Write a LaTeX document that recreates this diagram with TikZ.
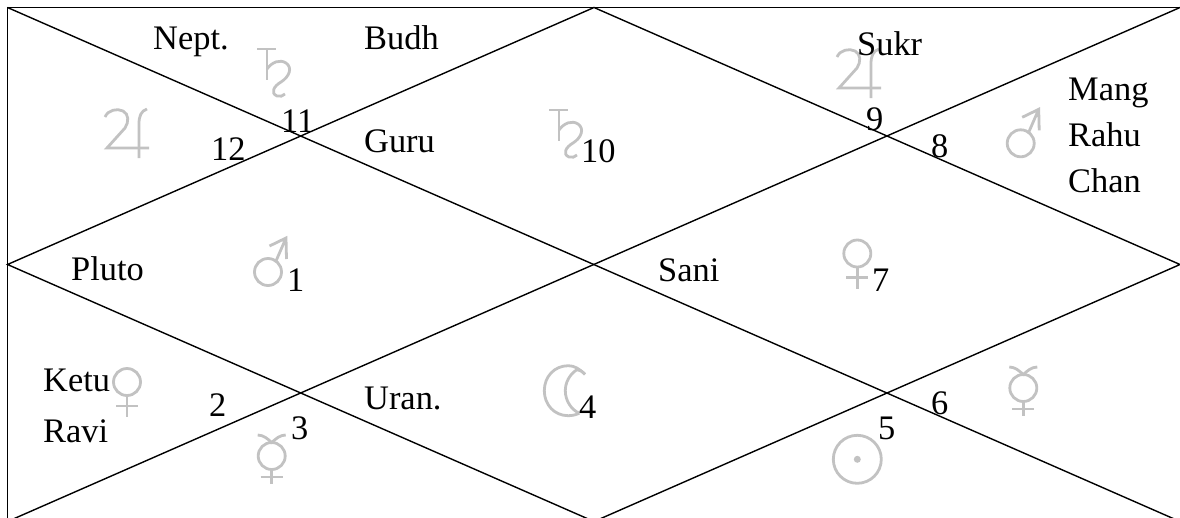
\documentclass[tikz,border=0pt]{standalone}
\usepackage{fontspec}
\setmainfont{Liberation Serif}
\definecolor{glyphgray}{HTML}{C2C2C2}
\tikzset{
  lbl/.style={anchor=base west,inner sep=0pt,font=\fontsize{34.4}{36}\selectfont},
  rule/.style={draw=black,line width=1.4pt},
  sym/.style={draw=glyphgray,line width=2.8pt},
  saturnglyph/.pic={
    \draw[sym] (-10,0) -- (9,0) (0,0) -- (0,31);
    \draw[sym] (0,20) .. controls (5,13) and (13,10) .. (19,14) .. controls (26,19) and (22,28) .. (14,33) .. controls (7,37) and (3,44) .. (10,47) .. controls (13,48) and (16,47) .. (18,45);
  },
  jupiterglyph/.pic={
    \draw[sym] (-34,-31) .. controls (-31,-38) and (-22,-40) .. (-16,-37) .. controls (-10,-34) and (-10,-26) .. (-14,-20) -- (-32,0) -- (10,0);
    \draw[sym] (0,10) -- (0,-24) .. controls (0,-32) and (2,-37) .. (8,-39);
  },
  marsglyph/.pic={
    \draw[sym] (0,0) circle (13.5pt);
    \draw[sym] (8,-11) -- (18,-34) (1.5,-26) -- (18,-34) -- (18.5,-13);
  },
  venusglyph/.pic={
    \draw[sym] (0,0) circle (13.5pt);
    \draw[sym] (0,14) -- (0,35) (-11,24) -- (11,24);
  },
  mercuryglyph/.pic={
    \draw[sym] (0,0) circle (13.5pt);
    \draw[sym] (0,14) -- (0,28) (-11,21) -- (11,21);
    \draw[sym] (-14,-21) .. controls (-8,-21) and (-4,-17) .. (0,-13.5) .. controls (4,-17) and (8,-21) .. (14,-21);
  },
  sunglyph/.pic={
    \draw[sym] (0,0) circle (24pt);
    \fill[glyphgray] (0,0) circle (3.5pt);
  },
  moonglyph/.pic={
    \draw[sym] (15.7,-16.3) .. controls (10,-22) and (5,-25) .. (-1,-25) .. controls (-15,-25) and (-25,-14) .. (-25,0) .. controls (-25,14) and (-15,25) .. (-1,25) .. controls (3,25) and (7,24) .. (10,22.5);
    \draw[sym] (15.7,-16.3) .. controls (13,-19.5) and (10,-21) .. (7.5,-21) .. controls (0,-16) and (-4,-8) .. (-4,0) .. controls (-4,10) and (2,19) .. (10,22.5);
  }
}
\begin{document}
\begin{tikzpicture}[x=1pt,y=-1pt]
\useasboundingbox (0,0) rectangle (1180,517);
\clip (0,0) rectangle (1180,517);
\coordinate (TL) at (7.5,7.5);
\coordinate (TM) at (594,7.5);
\coordinate (TR) at (1180,7.5);
\coordinate (ML) at (7.5,264.5);
\coordinate (MR) at (1180,264.5);
\coordinate (BL) at (7.5,521.5);
\coordinate (BM) at (594,521.5);
\coordinate (BR) at (1180,521.5);
\draw[rule] (BL) -- (TL) -- (TR);
\draw[rule] (ML) -- (TM) -- (MR) -- (BM) -- cycle;
\draw[rule] (TL) -- (BR);
\draw[rule] (BL) -- (TR);
% planet glyphs
\pic at (267,49) {saturnglyph};
\pic at (139,148) {jupiterglyph};
\pic at (559,110) {saturnglyph};
\pic at (871,88) {jupiterglyph};
\pic at (1020.7,143.3) {marsglyph};
\pic at (268,272) {marsglyph};
\pic at (857.3,253.5) {venusglyph};
\pic at (127,382) {venusglyph};
\pic at (271.7,456) {mercuryglyph};
\pic at (569.3,390.7) {moonglyph};
\pic at (857.3,459.3) {sunglyph};
\pic at (1023.3,388) {mercuryglyph};
% names
\node[lbl] (nept) at (153,49) {Nept.};
\node[lbl] (budh) at (364,49) {Budh};
\node[lbl] (guru) at (364,152) {Guru};
\node[lbl] (sukr) at (857,55) {Sukr};
\node[lbl] (mang) at (1068,100) {Mang};
\node[lbl] (rahu) at (1068,146) {Rahu};
\node[lbl] (chan) at (1068,192) {Chan};
\node[lbl] (pluto) at (71,280) {Pluto};
\node[lbl] (sani) at (658,281) {Sani};
\node[lbl] (ketu) at (43,391) {Ketu};
\node[lbl] (ravi) at (43,442) {Ravi};
\node[lbl] (uran) at (364,409) {Uran.};
% house numbers
\node[lbl] (n11) at (281,132) {11};
\node[lbl] (n12) at (211,160) {12};
\node[lbl] (n10) at (581,162) {10};
\node[lbl] (n9) at (866,130) {9};
\node[lbl] (n8) at (931,157) {8};
\node[lbl] (n1) at (287,291) {1};
\node[lbl] (n7) at (872,291) {7};
\node[lbl] (n2) at (209,416) {2};
\node[lbl] (n3) at (291,439) {3};
\node[lbl] (n4) at (579,418) {4};
\node[lbl] (n5) at (878,439) {5};
\node[lbl] (n6) at (931,414) {6};
\end{tikzpicture}
\end{document}
